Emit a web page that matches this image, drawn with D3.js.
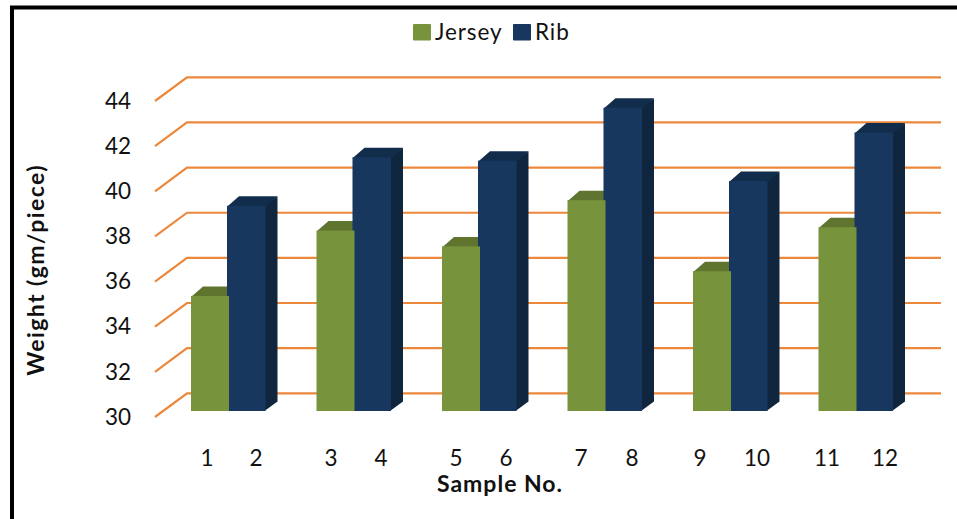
<!DOCTYPE html>
<html>
<head>
<meta charset="utf-8">
<script src="https://cdn.jsdelivr.net/npm/d3@7/dist/d3.min.js"></script>
<style>
  html, body { margin: 0; padding: 0; background: #fff; }
  svg { display: block; font-family: Lato, "Open Sans", sans-serif; }
</style>
</head>
<body>
<svg id="chart" width="957" height="519"></svg>
<script>
// Fabric weight per sample: odd samples are jersey, even samples are rib.
const sampleLabels = ["1", "2", "3", "4", "5", "6", "7", "8", "9", "10", "11", "12"];
const jerseyWeights = [35.1, 38.0, 37.3, 39.35, 36.2, 38.15];
const ribWeights = [39.1, 41.25, 41.1, 43.45, 40.2, 42.35];
const weightTicks = [30, 32, 34, 36, 38, 40, 42, 44];
const seriesNames = ["Jersey", "Rib"];

const svg = d3.select("#chart");

// 3D look: the walls sit behind the front plane, bars stand part-way into the depth.
const wall = { dx: 32, dy: 23.7 };
const barDepth = { dx: 12, dy: 9.5 };

const styles = {
  Jersey: { face: "#77933c", top: "#5f752f", side: "#4f6227" },
  Rib: { face: "#17375e", top: "#122c4b", side: "#10263f" },
  grid: "#ec883c"
};

const yFront = d3.scaleLinear().domain([30, 44]).range([417, 101]);
const yBar = d3.scaleLinear().domain([30, 44]).range([411, 95.3]);
const groupX = d3.scalePoint()
  .domain(d3.range(jerseyWeights.length))
  .range([229, 856.5]);
const seriesX = d3.scaleOrdinal().domain(seriesNames).range([-38, -2]);
const seriesW = d3.scaleOrdinal().domain(seriesNames).range([38, 38.5]);
const labelX = d3.scaleOrdinal().domain(sampleLabels)
  .range([207, 256, 331, 381, 456, 506, 581, 632, 700, 757, 827, 885]);

// Frame: only the top and left edges are ruled.
svg.append("path")
  .attr("d", d3.line()([[12, 519], [12, 7.5], [957, 7.5]]))
  .attr("fill", "none").attr("stroke", "#000").attr("stroke-width", 4)
  .attr("stroke-linejoin", "miter");

// Gridlines: a diagonal from the front plane, then across the back wall.
const frontX = 155, wallRight = 941;
svg.append("g").selectAll("path")
  .data(weightTicks)
  .join("path")
  .attr("d", v => d3.line()([
    [frontX, yFront(v)],
    [frontX + wall.dx, yFront(v) - wall.dy],
    [wallRight, yFront(v) - wall.dy]
  ]))
  .attr("fill", "none")
  .attr("stroke", styles.grid)
  .attr("stroke-width", 2.2);

// Value labels along the front plane.
const yAxis = svg.append("g")
  .attr("transform", `translate(${frontX},0)`)
  .call(d3.axisLeft(yFront).tickValues(weightTicks).tickSize(0).tickPadding(24));
yAxis.select(".domain").remove();
yAxis.selectAll("text")
  .attr("font-family", "Lato, sans-serif")
  .attr("font-size", 22.5)
  .attr("fill", "#111");

const poly = pts => d3.line()(pts) + "Z";

// Prism sides: side and top polygons, running a pixel under the face to hide the seam.
function drawBarBody(g, series, i, value) {
  const x0 = groupX(i) + seriesX(series);
  const x1 = x0 + seriesW(series);
  const yt = yBar(value), yb = yBar(30);
  const { dx, dy } = barDepth;
  const s = styles[series];
  g.append("path").attr("fill", s.side)
    .attr("d", poly([[x1 - 1, yb], [x1 - 1, yt], [x1 + dx, yt - dy], [x1 + dx, yb - dy]]));
  g.append("path").attr("fill", s.top)
    .attr("d", poly([[x0, yt + 1], [x1, yt + 1], [x1 + dx, yt - dy], [x0 + dx, yt - dy]]));
}

function drawBarFace(g, series, i, value) {
  const x0 = groupX(i) + seriesX(series);
  const yt = yBar(value), yb = yBar(30);
  g.append("rect").attr("fill", styles[series].face)
    .attr("x", x0).attr("y", yt).attr("width", seriesW(series)).attr("height", yb - yt);
}

// Rib stands slightly over the jersey top, while the jersey face overlaps the rib foot.
const bars = svg.append("g");
jerseyWeights.forEach((v, i) => {
  const g = bars.append("g");
  drawBarBody(g, "Jersey", i, v);
  drawBarBody(g, "Rib", i, ribWeights[i]);
  drawBarFace(g, "Rib", i, ribWeights[i]);
  drawBarFace(g, "Jersey", i, v);
});

// Sample numbers under the bars.
svg.append("g").selectAll("text")
  .data(sampleLabels)
  .join("text")
  .attr("x", d => labelX(d))
  .attr("y", 466)
  .attr("text-anchor", "middle")
  .attr("font-size", 22.5)
  .attr("fill", "#111")
  .text(d => d);

// Axis titles.
svg.append("text")
  .attr("x", 500).attr("y", 492)
  .attr("text-anchor", "middle")
  .attr("font-size", 23).attr("font-weight", 700).attr("fill", "#111")
  .attr("letter-spacing", 1)
  .text("Sample No.");
svg.append("text")
  .attr("transform", "translate(44,270) rotate(-90)")
  .attr("text-anchor", "middle")
  .attr("font-size", 23).attr("font-weight", 700).attr("fill", "#111")
  .attr("letter-spacing", 1.4)
  .text("Weight (gm/piece)");

// Legend.
const legendX = d3.scaleOrdinal().domain(seriesNames).range([413, 513]);
const legend = svg.append("g").selectAll("g")
  .data(seriesNames)
  .join("g")
  .attr("transform", d => `translate(${legendX(d)},24)`);
legend.append("rect")
  .attr("width", 18).attr("height", 16.5).attr("rx", 1)
  .attr("fill", d => styles[d].face);
legend.append("text")
  .attr("x", 22).attr("y", 15.5)
  .attr("font-size", 22.5).attr("letter-spacing", 0.9).attr("fill", "#111")
  .text(d => d);
</script>
</body>
</html>
